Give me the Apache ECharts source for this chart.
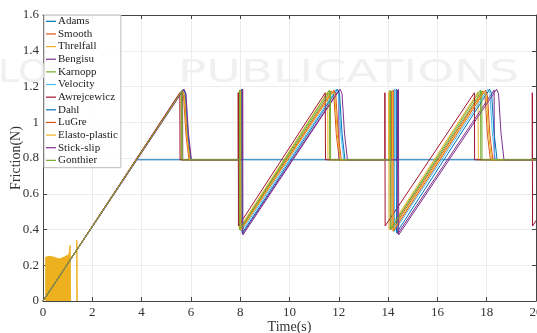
<!DOCTYPE html>
<html>
<head>
<meta charset="utf-8">
<script src="https://cdn.jsdelivr.net/npm/echarts@6/dist/echarts.min.js"></script>
<style>
html,body{margin:0;padding:0;background:#fff;}
#chart{width:537px;height:333px;}
</style>
</head>
<body>
<div id="chart"></div>
<script>
// ---- data (time in s, friction in N) ----
const modelNames = ['Adams','Smooth','Threlfall','Bengisu','Karnopp','Velocity','Awrejcewicz','Dahl','LuGre','Elasto-plastic','Stick-slip','Gonthier'];
const modelColors = ['#0072BD','#D95319','#EDB120','#7E2F8E','#77AC30','#4DBEEE','#A2142F','#0072BD','#D95319','#EDB120','#7E2F8E','#77AC30'];
const xTicks = [0,2,4,6,8,10,12,14,16,18,20];
const yTicks = [0,0.2,0.4,0.6,0.8,1,1.2,1.4,1.6];

const adams = [[0,0],[3.8,0.79],[20,0.79]];
const smooth = [[0,0],[5.62,1.175],[5.7,1.15],[5.8,0.93],[5.92,0.79],[8.0,0.79],[8.0,1.175],[8.01,0.40],[11.72,1.175],[11.8,1.15],[11.9,0.93],[12.02,0.79],[14.15,0.79],[14.15,1.175],[14.16,0.40],[17.85,1.175],[17.93,1.15],[18.03,0.93],[18.15,0.79],[20,0.79]];
const threlfall = [[0,0],[5.6,1.17],[5.61,0.79],[7.95,0.79],[7.95,1.17],[7.96,0.405],[11.55,1.17],[11.56,0.79],[14.03,0.79],[14.03,1.17],[14.04,0.40],[17.65,1.17],[17.66,0.79],[20,0.79]];
const threlfallChatter = [[0.11,0],[0.11,0.245],[0.25,0.25],[0.45,0.245],[0.65,0.235],[0.85,0.245],[1.05,0.26],[1.1,0.265],[1.1,0.31],[1.12,0.31],[1.12,0]];
const threlfallSpike = [[1.37,0],[1.37,0.34],[1.39,0.34],[1.39,0]];
const bengisu = [[0,0],[5.66,1.18],[5.67,0.79],[8.08,0.79],[8.08,1.18],[8.09,0.375],[12.0,1.18],[12.01,0.79],[14.38,0.79],[14.38,1.18],[14.39,0.375],[18.3,1.18],[18.31,0.79],[20,0.79]];
const karnopp = [[0,0],[5.62,1.175],[5.63,0.79],[7.97,0.79],[7.97,1.18],[7.98,0.40],[11.62,1.18],[11.63,0.79],[14.08,0.79],[14.08,1.18],[14.09,0.40],[17.75,1.18],[17.76,0.79],[20,0.79]];
const velocity = [[0,0],[5.68,1.185],[5.76,1.16],[5.86,0.94],[5.98,0.79],[8.05,0.79],[8.05,1.185],[8.06,0.39],[11.9,1.185],[11.98,1.16],[12.08,0.94],[12.2,0.79],[14.25,0.79],[14.25,1.185],[14.26,0.39],[18.05,1.185],[18.13,1.16],[18.23,0.94],[18.35,0.79],[20,0.79]];
const awrejcewicz = [[0,0],[5.55,1.165],[5.56,0.79],[7.92,0.79],[7.92,1.165],[7.93,0.42],[11.45,1.165],[11.46,0.79],[13.87,0.79],[13.87,1.165],[13.88,0.42],[17.5,1.165],[17.51,0.79],[19.85,0.79],[19.85,1.165],[19.86,0.42],[20,0.45]];
const dahl = [[0,0],[5.7,1.185],[5.78,1.16],[5.88,0.94],[6.0,0.79],[8.07,0.79],[8.07,1.185],[8.08,0.38],[11.95,1.185],[12.03,1.16],[12.13,0.94],[12.25,0.79],[14.33,0.79],[14.33,1.185],[14.34,0.38],[18.12,1.185],[18.2,1.16],[18.3,0.94],[18.42,0.79],[20,0.79]];
const lugre = [[0,0],[5.66,1.18],[5.74,1.15],[5.84,0.93],[5.96,0.79],[8.02,0.79],[8.02,1.18],[8.03,0.395],[11.8,1.18],[11.88,1.15],[11.98,0.93],[12.1,0.79],[14.2,0.79],[14.2,1.18],[14.21,0.39],[17.95,1.18],[18.03,1.15],[18.13,0.93],[18.25,0.79],[20,0.79]];
const elastoPlastic = [[0,0],[5.65,1.175],[5.73,1.15],[5.83,0.93],[5.95,0.79],[8.01,0.79],[8.01,1.175],[8.02,0.395],[11.76,1.175],[11.84,1.15],[11.94,0.93],[12.06,0.79],[14.18,0.79],[14.18,1.175],[14.19,0.395],[17.9,1.175],[17.98,1.15],[18.08,0.93],[18.2,0.79],[20,0.79]];
const stickSlip = [[0,0],[5.72,1.185],[5.8,1.16],[5.9,0.94],[6.02,0.79],[8.1,0.79],[8.1,1.185],[8.11,0.37],[12.05,1.185],[12.13,1.16],[12.23,0.94],[12.35,0.79],[14.42,0.79],[14.42,1.185],[14.43,0.37],[18.4,1.185],[18.48,1.16],[18.58,0.94],[18.7,0.79],[20,0.79]];
const gonthier = [[0,0],[5.64,1.175],[5.65,0.79],[7.98,0.79],[7.98,1.175],[7.99,0.40],[11.66,1.175],[11.67,0.79],[14.1,0.79],[14.1,1.175],[14.11,0.40],[17.8,1.175],[17.81,0.79],[20,0.79]];

const modelData = [adams, smooth, threlfall, bengisu, karnopp, velocity, awrejcewicz, dahl, lugre, elastoPlastic, stickSlip, gonthier];

// ---- chart ----
const FONT = 'Liberation Serif';
const chart = echarts.init(document.getElementById('chart'), null, {renderer:'canvas'});

const series = [];
modelNames.forEach((name, i) => {
  series.push({
    name: name, type: 'line', data: modelData[i],
    xAxisIndex: 0, yAxisIndex: 0,
    symbol: 'none', showSymbol: false, animation: false,
    lineStyle: {width: 1, color: modelColors[i]},
    itemStyle: {color: modelColors[i]},
    z: 2 + i * 0.01
  });
  if (name === 'Threlfall') {
    series.push({
      name: 'Threlfall', type: 'line', data: threlfallChatter, symbol: 'none', animation: false,
      lineStyle: {width: 1, color: modelColors[i]}, areaStyle: {color: modelColors[i], opacity: 1, origin: 'start'},
      itemStyle: {color: modelColors[i]}, z: 2
    });
    series.push({
      name: 'Threlfall', type: 'line', data: threlfallSpike, symbol: 'none', animation: false,
      lineStyle: {width: 1, color: modelColors[i]}, itemStyle: {color: modelColors[i]}, z: 2
    });
  }
});

const axisLineStyle = {color: '#444', width: 1};
chart.setOption({
  animation: false,
  backgroundColor: '#ffffff',
  grid: {left: 43, right: 1, top: 15, bottom: 32, containLabel: false, outerBoundsMode: 'none'},
  graphic: [
    {type: 'text', left: -2, top: 58, z: 1, scaleX: 1.2,
     style: {text: 'LOGY', font: '32px "DejaVu Sans"', fill: '#f0f0f0'}},
    {type: 'text', left: 178, top: 58, z: 1, scaleX: 1.47,
     style: {text: 'PUBLICATIONS', font: '32px "DejaVu Sans"', fill: '#f0f0f0'}}
  ],
  legend: {
    data: modelNames,
    orient: 'vertical', left: 44, top: 15,
    padding: [0, 3, 1, 2],
    icon: 'rect',
    itemWidth: 10, itemHeight: 1.2, itemGap: 0,
    backgroundColor: 'rgba(255,255,255,0.9)',
    borderColor: '#bbbbbb', borderWidth: 1,
    textStyle: {fontFamily: FONT, fontSize: 11, color: '#222', lineHeight: 12.64, padding: [0, 0, 0, -3]},
    z: 10
  },
  xAxis: [{
    type: 'value', min: 0, max: 20, interval: 2,
    name: 'Time(s)', nameLocation: 'middle', nameGap: 19, nameMoveOverlap: false,
    nameTextStyle: {fontFamily: FONT, fontSize: 14, color: '#333'},
    axisLine: {show: true, onZero: false, lineStyle: axisLineStyle},
    axisTick: {show: true, inside: true, length: 4, lineStyle: axisLineStyle},
    axisLabel: {fontFamily: FONT, fontSize: 13, color: '#333', margin: 5,
      formatter: v => xTicks.indexOf(v) >= 0 ? String(v) : ''},
    splitLine: {show: true, lineStyle: {color: '#ececec', width: 1}}
  }, {
    type: 'value', min: 0, max: 20, interval: 2, position: 'top',
    axisLine: {show: true, onZero: false, lineStyle: axisLineStyle},
    axisTick: {show: true, inside: true, length: 4, lineStyle: axisLineStyle},
    axisLabel: {show: false}, splitLine: {show: false}
  }],
  yAxis: [{
    type: 'value', min: 0, max: 1.6, interval: 0.2,
    name: 'Friction(N)', nameLocation: 'middle', nameGap: 20, nameMoveOverlap: false,
    nameTextStyle: {fontFamily: FONT, fontSize: 14, color: '#333'},
    axisLine: {show: true, onZero: false, lineStyle: axisLineStyle},
    axisTick: {show: true, inside: true, length: 4, lineStyle: axisLineStyle},
    axisLabel: {fontFamily: FONT, fontSize: 13, color: '#333', margin: 4,
      formatter: v => { const t = yTicks.find(y => Math.abs(y - v) < 1e-9); return t === undefined ? '' : String(t); }},
    splitLine: {show: true, lineStyle: {color: '#ececec', width: 1}}
  }, {
    type: 'value', min: 0, max: 1.6, interval: 0.2, position: 'right',
    axisLine: {show: true, onZero: false, lineStyle: axisLineStyle},
    axisTick: {show: true, inside: true, length: 4, lineStyle: axisLineStyle},
    axisLabel: {show: false}, splitLine: {show: false}
  }],
  series: series
});
</script>
</body>
</html>
